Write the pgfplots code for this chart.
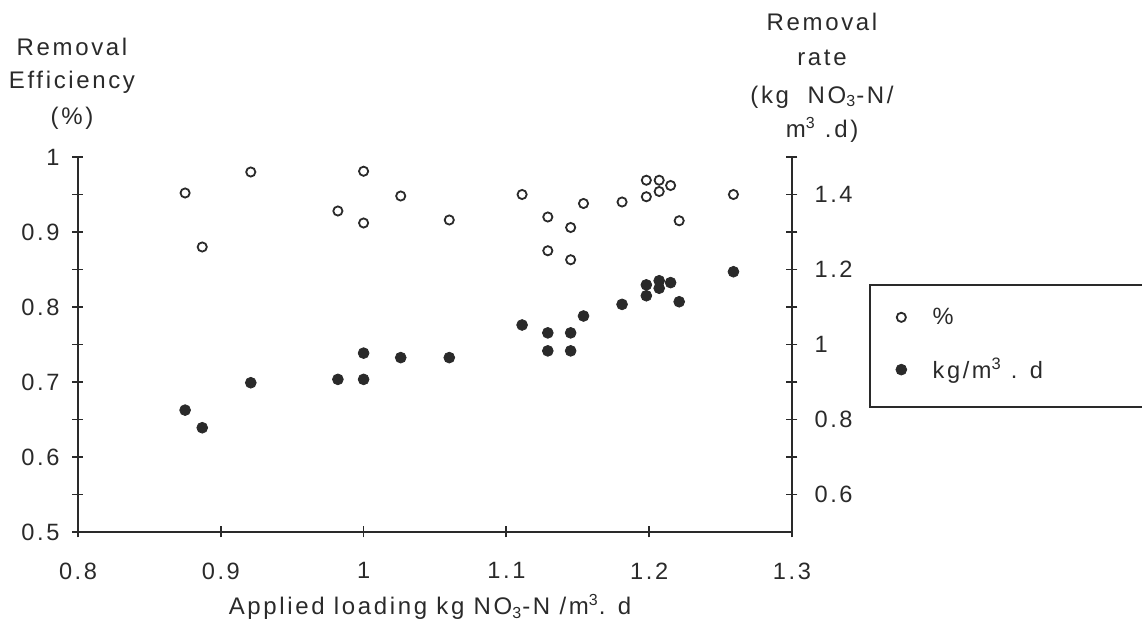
\documentclass[border=0pt]{standalone}
\usepackage{pgfplots}
\pgfplotsset{compat=1.18}
\usepackage{fontspec}
\setmainfont{Liberation Sans}[LetterSpace=11]
\definecolor{ink}{HTML}{2A2A2A}
\begin{document}
\begin{tikzpicture}[x=1pt,y=1pt]
\path[use as bounding box] (0,0) rectangle (571,313);
\pgfplotsset{
  common/.style={
    at={(39pt,47pt)}, anchor=south west,
    scale only axis, width=357pt, height=187.5pt,
    xmin=0.8, xmax=1.3,
    axis line style={-, ink, line width=0.9pt},
    tick align=center,
    major tick length=5.5pt, minor tick length=5.5pt,
    tick style={ink, line width=0.9pt},
    ticklabel style={font=\fontsize{11.8}{14}\selectfont, text=ink},
    /pgf/number format/assume math mode=true,
    clip=false,
  }
}
\begin{axis}[common,
  ymin=0.5, ymax=1.0,
  axis x line*=bottom, axis y line*=left,
  xtick={0.8,0.9,1,1.1,1.2,1.3}, xticklabels={0.8,0.9,1,1.1,1.2,1.3},
  ytick={0.5,0.6,0.7,0.8,0.9,1}, yticklabels={0.5,0.6,0.7,0.8,0.9,1},
  minor ytick={0.55,0.65,0.75,0.85,0.95},
  yticklabel style={xshift=-3pt},
  xticklabel style={yshift=-9pt},
]
\addplot[only marks, mark=o, mark size=2.3pt, mark options={line width=0.9pt, draw=ink}] coordinates {
(0.875,0.952) (0.887,0.880) (0.921,0.980) (0.982,0.928) (1.000,0.981)
(1.000,0.912) (1.026,0.948) (1.060,0.916) (1.111,0.950) (1.129,0.920)
(1.129,0.875) (1.145,0.906) (1.145,0.863) (1.154,0.938) (1.181,0.940)
(1.198,0.947) (1.198,0.969) (1.207,0.969) (1.207,0.954) (1.215,0.962)
(1.221,0.915) (1.259,0.950)
};
\end{axis}
\begin{axis}[common,
  ymin=0.5, ymax=1.5,
  axis y line*=right, axis x line=none,
  ytick={0.6,0.8,1,1.2,1.4}, yticklabels={0.6,0.8,1,1.2,1.4},
  minor ytick={0.7,0.9,1.1,1.3,1.5},
  yticklabel style={xshift=5pt},
  legend image code/.code={\draw[#1] plot coordinates {(0pt,0pt)};},
  legend style={at={(1.145,0.61)}, anchor=north west, draw=none, fill=none,
    inner sep=0pt, row sep=11.5pt, column sep=11pt,
    font=\fontsize{11.8}{14}\selectfont, text=ink},
  legend cell align=left,
]
\addlegendimage{only marks, mark=o, mark size=2.3pt, mark options={line width=0.9pt, draw=ink}}
\addlegendentry{\%}
\addplot[only marks, mark=*, mark size=2.7pt, ink] coordinates {
(0.875,0.825) (0.887,0.778) (0.921,0.898) (0.982,0.907) (1.000,0.907)
(1.000,0.977) (1.026,0.965) (1.060,0.965) (1.111,1.052) (1.129,1.031)
(1.129,0.983) (1.145,1.031) (1.145,0.983) (1.154,1.076) (1.181,1.107)
(1.198,1.159) (1.198,1.130) (1.207,1.170) (1.207,1.150) (1.215,1.165)
(1.221,1.114) (1.259,1.194)
};
\addlegendentry{kg/m\textsuperscript{3} . d}
\end{axis}
\draw[ink, line width=0.9pt] (435,109.5) rectangle (572,170.5);
\begin{scope}[every node/.style={font=\fontsize{12}{14}\selectfont, text=ink}]
\node at (36,289.5) {Removal};
\node at (36,272) {Efficiency};
\node at (36,254) {(\%)};
\node at (411,302) {Removal};
\node at (411,284) {rate};
\node at (411,264.5) {(kg\ \ NO\textsubscript{3}-N/};
\node at (411,248) {m\textsuperscript{3} .d)};
\node at (215,9.5) {Applied loading kg NO\textsubscript{3}-N /m\textsuperscript{3}. d};
\end{scope}
\end{tikzpicture}
\end{document}
